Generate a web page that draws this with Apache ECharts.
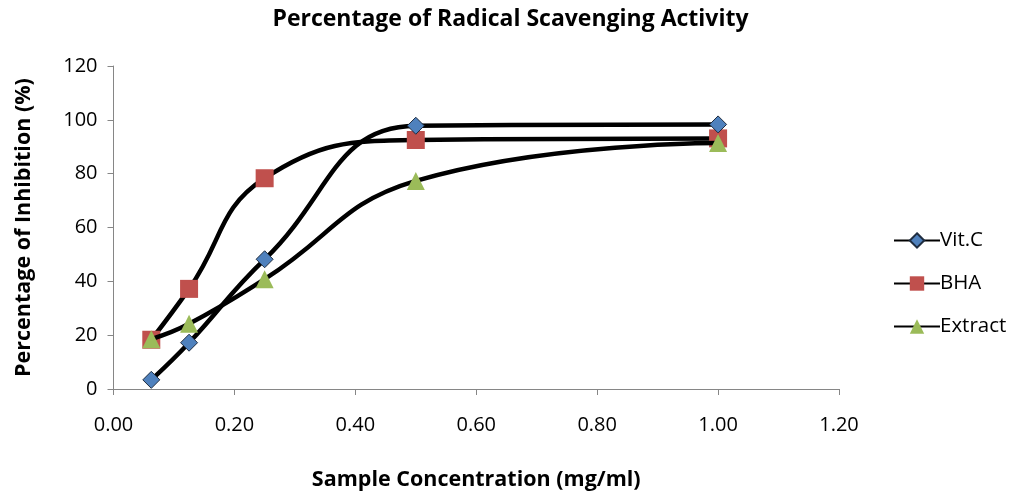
<!DOCTYPE html>
<html><head><meta charset="utf-8">
<script src="https://cdn.jsdelivr.net/npm/echarts@6/dist/echarts.min.js"></script>
<style>html,body{margin:0;padding:0;background:#fff}#c{width:1021px;height:496px}</style>
</head><body><div id="c"></div>
<script>
const concentrations = [0.0625, 0.125, 0.25, 0.5, 1.0];
const vitC = [3.4, 17.2, 48.2, 97.8, 98.3];
const bha = [18.3, 37.2, 78.3, 92.5, 93.1];
const extract = [18.5, 24.2, 40.8, 77.3, 91.4];
const seriesNames = ['Vit.C', 'BHA', 'Extract'];
const titleText = 'Percentage of Radical Scavenging Activity';
const xName = 'Sample Concentration (mg/ml)';
const yName = 'Percentage of Inhibition (%)';

const font = '"Open Sans", Lato, sans-serif';
function pts(vals){ return concentrations.map((x,i)=>[x, vals[i]]); }
const chart = echarts.init(document.getElementById('c'), null, {renderer:'canvas'});
chart.setOption({
  animation:false,
  backgroundColor:'#fff',
  title:{text:titleText,left:'center',top:3,
    textStyle:{fontFamily:font,fontWeight:'bold',fontSize:23,color:'#000'}},
  grid:{left:113.5,right:182,top:66,bottom:107,containLabel:false,outerBoundsMode:'none'},
  xAxis:{type:'value',min:0,max:1.2,interval:0.2,
    name:xName,nameLocation:'middle',nameGap:80,
    nameTextStyle:{fontFamily:font,fontWeight:'bold',fontSize:21.5,color:'#000'},
    axisLine:{show:true,lineStyle:{color:'#868686',width:1}},
    axisTick:{show:true,length:6,lineStyle:{color:'#868686'}},
    splitLine:{show:false},
    axisLabel:{fontFamily:font,fontSize:20,color:'#000',margin:26,formatter:v=>v.toFixed(2)}},
  yAxis:{type:'value',min:0,max:120,interval:20,
    name:yName,nameLocation:'middle',nameGap:79,nameRotate:90,
    nameTextStyle:{fontFamily:font,fontWeight:'bold',fontSize:21.5,color:'#000'},
    axisLine:{show:true,lineStyle:{color:'#868686',width:1}},
    axisTick:{show:true,length:6,lineStyle:{color:'#868686'}},
    splitLine:{show:false},
    axisLabel:{fontFamily:font,fontSize:20,color:'#000',margin:16}},
  legend:{orient:'vertical',left:888,top:225,itemGap:22,itemWidth:46,itemHeight:18,
    textStyle:{fontFamily:font,fontSize:20.5,color:'#000',padding:[0,0,0,-5]},
    data:seriesNames},
  series:[
    {name:seriesNames[0],type:'line',data:pts(vitC),smooth:0.45,symbol:'diamond',symbolSize:17,
      lineStyle:{color:'#000',width:4.5},itemStyle:{color:'#4F81BD',borderColor:'#1f2d40',borderWidth:1},z:3},
    {name:seriesNames[1],type:'line',data:pts(bha),smooth:0.45,symbol:'rect',symbolSize:18,
      lineStyle:{color:'#000',width:4.5},itemStyle:{color:'#C0504D',borderColor:'#C0504D',borderWidth:0},z:2},
    {name:seriesNames[2],type:'line',data:pts(extract),smooth:0.45,symbol:'triangle',symbolSize:18,
      lineStyle:{color:'#000',width:4.5},itemStyle:{color:'#9BBB59',borderWidth:0},z:4}
  ]
});
</script></body></html>
